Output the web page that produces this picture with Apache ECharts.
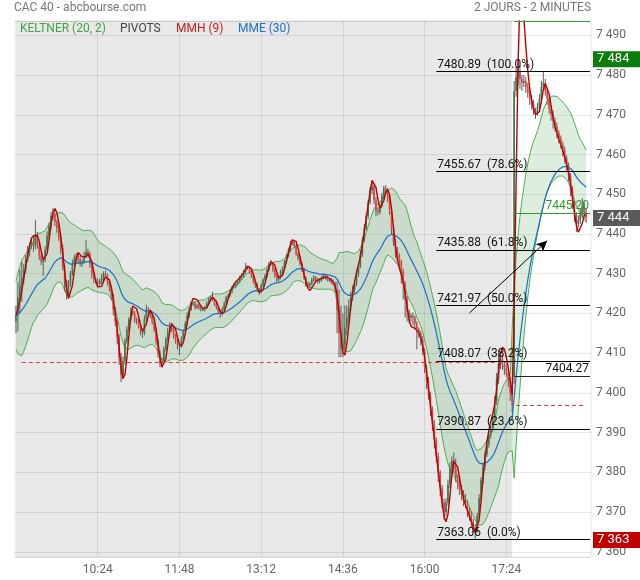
<!DOCTYPE html>
<html><head><meta charset="utf-8">
<script src="https://cdn.jsdelivr.net/npm/echarts@6/dist/echarts.min.js"></script>
<style>html,body{margin:0;padding:0;background:#fff}#c{width:640px;height:580px}</style>
</head><body><div id="c"></div>
<script>
// ---------- data ----------
const prevDayClose = 7407.7;   // red dashed reference line, day 1
const day1Open = 7418.0;
const day2Open = 7404.27;
const keltnerSeedAtr = 3.2;

const day1Close = [
7419.5,7424.0,7427.0,7429.0,7431.0,7433.5,7435.5,7437.0,7438.0,7437.0,
7439.5,7437.5,7434.5,7433.0,7433.5,7436.0,7439.5,7442.0,7444.5,7445.0,
7443.0,7441.5,7439.0,7436.5,7432.0,7428.0,7425.0,7427.5,7430.0,7432.5,
7434.0,7434.5,7433.5,7432.5,7433.0,7434.5,7435.5,7435.0,7432.5,7430.0,
7428.5,7428.0,7427.5,7428.0,7429.0,7430.0,7429.5,7428.0,7426.5,7424.5,
7421.0,7418.0,7414.0,7409.0,7404.5,7408.0,7413.0,7416.0,7418.5,7420.5,
7420.0,7418.5,7418.0,7417.0,7415.5,7415.0,7418.5,7421.0,7420.5,7419.5,
7418.0,7416.0,7413.0,7410.0,7407.5,7408.0,7411.0,7413.5,7415.5,7417.0,
7416.0,7414.5,7413.0,7412.0,7412.0,7413.5,7415.5,7417.5,7419.5,7421.0,
7422.5,7422.5,7421.5,7422.0,7421.5,7421.0,7421.0,7421.5,7422.5,7423.5,
7424.0,7423.5,7422.5,7421.5,7420.5,7420.0,7421.0,7422.5,7424.0,7424.5,
7425.5,7426.5,7427.0,7427.5,7428.0,7429.0,7429.5,7430.5,7431.5,7431.5,
7430.5,7429.5,7428.0,7427.0,7426.0,7425.5,7427.0,7428.5,7429.5,7431.0,
7432.5,7432.5,7431.0,7429.5,7428.5,7429.0,7430.5,7431.5,7433.0,7434.5,
7436.0,7437.5,7438.0,7437.0,7435.0,7434.0,7432.5,7431.0,7429.0,7427.5,
7427.0,7427.5,7428.5,7429.0,7428.5,7428.0,7428.5,7429.0,7429.5,7429.0,
7428.5,7428.5,7428.0,7427.5,7426.0,7421.0,7415.0,7411.0,7412.0,7416.5,
7419.0,7421.5,7424.0,7426.0,7427.5,7430.0,7432.0,7435.0,7438.5,7441.5,
7444.5,7448.0,7451.0,7452.0,7448.5,7446.0,7445.5,7447.0,7449.5,7451.5,
7451.0,7449.0,7446.0,7441.5,7438.0,7436.0,7434.5,7433.0,7430.5,7427.5,
7423.5,7420.5,7419.0,7419.5,7419.0,7417.5,7416.0,7415.0,7413.5,7410.5,
7406.5,7403.0,7399.5,7396.0,7392.0,7388.0,7384.0,7380.0,7376.0,7372.5,
7370.0,7372.5,7377.0,7381.0,7383.0,7381.0,7378.5,7377.5,7375.5,7374.5,
7373.0,7372.0,7370.5,7369.0,7367.5,7366.0,7365.5,7369.0,7373.5,7378.0,
7381.5,7384.5,7387.0,7389.5,7391.0,7394.0,7398.0,7403.5,7407.5,7408.5,
7407.0,7406.0,7405.0,7403.0,7400.0,7397.0];
const day1WickUp = [
2.5,4.0,4.0,4.0,1.5,1.2,1.5,0.8,1.0,1.2, 4.0,1.0,0.6,0.8,0.5,0.9,1.2,0.8,1.0,1.5,
0.8,0.6,0.9,0.5,0.8,0.6,0.5,0.9,0.7,1.0, 0.8,0.7,0.6,0.9,0.6,1.0,3.0,0.8,0.6,0.5,
0.6,0.5,0.8,0.7,0.9,0.6,0.8,0.5,0.7,0.6, 0.5,0.6,0.5,0.8,1.0,1.2,0.8,0.9,0.6,1.0,
0.8,0.6,0.5,0.7,0.6,0.5,1.0,1.2,0.6,0.5, 0.5,0.6,0.4,0.5,0.6,0.8,0.7,0.6,0.9,0.8,
0.6,0.5,0.4,0.5,0.6,0.7,0.5,0.6,0.8,0.6, 0.5,0.6,0.4,0.5,0.4,0.5,0.6,0.4,0.5,0.6,
0.5,1.5,0.4,0.5,0.4,0.5,0.6,0.5,0.4,0.6, 0.5,0.4,0.6,0.5,0.4,0.5,0.6,0.5,1.2,0.5,
0.4,0.5,0.4,0.5,0.6,0.4,0.5,0.4,0.5,0.6, 0.5,1.0,0.4,0.5,0.4,0.6,0.5,0.4,0.5,0.6,
0.6,0.8,0.6,0.4,0.5,0.4,0.5,0.4,0.5,0.4, 0.5,0.4,0.5,0.6,0.4,0.5,0.4,0.5,0.6,0.4,
0.5,0.4,0.5,0.6,0.5,2.0,5.0,7.0,8.0,5.5, 3.0,2.0,1.5,1.0,0.8,1.0,0.8,1.0,0.8,1.0,
0.8,0.6,0.8,1.0,0.6,0.8,0.7,0.6,0.8,0.6, 0.8,0.6,0.8,1.0,0.6,0.8,0.7,0.6,0.5,0.8,
0.6,0.8,0.5,0.6,0.8,0.5,0.6,0.5,0.6,0.8, 0.8,0.6,1.0,0.8,0.6,1.2,0.8,1.0,0.6,0.8,
0.8,1.0,1.2,1.5,1.0,2.0,2.5,1.0,1.5,1.2, 1.0,1.5,1.0,0.8,1.2,0.8,1.0,0.8,1.0,0.8,
1.0,0.8,1.2,1.0,0.8,1.0,1.2,1.5,3.3,1.0, 1.0,0.8,1.2,1.0,0.8,1.0];
const day1WickDown = [
3.0,4.0,4.0,4.0,1.5,0.9,0.6,1.2,0.8,1.5, 0.8,1.2,1.0,0.8,3.5,0.6,0.5,0.8,0.7,1.0,
1.0,1.2,0.8,1.5,1.2,2.5,1.5,0.6,0.8,0.5, 0.6,0.8,1.0,0.7,0.8,0.5,0.6,0.9,1.0,1.2,
0.8,0.6,0.7,0.5,0.6,0.8,0.6,0.9,1.0,1.2, 1.5,1.2,1.8,2.0,1.8,1.0,0.8,0.6,0.7,0.5,
0.6,0.9,0.7,0.8,1.0,1.2,0.5,0.6,0.8,0.7, 0.8,0.7,1.0,1.2,1.0,1.0,0.6,0.5,0.6,0.5,
0.7,0.8,0.6,1.0,2.5,0.6,0.5,0.6,0.5,0.7, 0.4,0.6,0.5,0.4,0.6,0.5,0.4,0.5,0.4,0.5,
0.5,0.4,0.6,0.5,0.7,1.1,0.5,0.4,0.5,0.4, 0.4,0.5,0.4,0.6,0.5,0.4,0.5,0.4,0.5,0.6,
0.5,0.6,0.5,0.6,0.5,0.8,0.4,0.5,0.4,0.5, 0.4,0.5,0.6,0.5,0.7,0.5,0.4,0.6,0.4,0.5,
0.4,0.5,0.4,0.6,0.5,0.7,0.5,0.6,0.5,0.8, 0.6,0.5,0.4,0.5,0.6,0.5,0.4,0.5,0.4,0.5,
0.4,0.5,0.6,0.5,0.8,6.0,6.0,2.0,2.0,2.0, 2.0,1.5,1.0,0.8,1.0,0.6,0.8,0.6,0.8,0.6,
0.6,0.8,0.6,1.0,1.0,1.5,0.8,0.6,0.5,0.8, 0.8,1.0,1.2,1.5,1.0,2.0,1.5,1.2,3.0,4.0,
4.5,2.5,1.5,1.0,2.0,1.5,5.0,1.2,1.5,1.0, 1.5,2.0,1.2,1.8,1.5,2.0,1.5,2.5,2.0,1.5,
2.0,1.0,0.8,1.0,1.5,1.2,1.0,1.8,1.2,1.5, 1.5,1.0,1.8,1.2,1.5,1.2,2.44,0.8,0.6,0.8,
0.8,1.0,0.6,0.8,1.0,0.8,0.6,1.0,1.2,1.5, 1.2,1.5,1.0,1.5,2.0,1.8];

const day2Close = [
7476.0,7479.5,7481.0,7479.0,7478.0,7478.5,7477.0,7475.5,7474.0,7472.5,
7471.0,7470.5,7472.0,7474.0,7477.0,7478.0,7476.0,7474.0,7471.5,7470.0,
7468.5,7467.0,7465.5,7464.0,7462.5,7461.0,7459.0,7457.0,7454.5,7451.0,
7447.5,7444.5,7442.5,7443.5,7445.0,7447.0,7445.5,7444.0];
const day2WickUp = [
2.5,2.5,3.0,1.5,1.0,1.5,1.0,1.0,0.8,1.0, 1.2,0.8,1.0,1.2,1.5,3.0,1.0,0.8,1.0,0.8,
1.0,0.8,1.0,0.6,0.8,0.8,1.0,0.8,1.0,0.8, 1.0,0.8,1.0,1.2,1.5,2.0,1.2,1.0];
const day2WickDown = [
2.0,1.5,2.0,2.5,2.0,1.0,1.5,1.2,1.5,1.2, 1.0,1.5,0.8,0.8,1.0,1.0,1.2,1.5,1.2,1.5,
2.0,1.2,1.5,1.2,1.0,1.5,1.2,1.5,1.2,1.5, 1.2,1.5,2.0,0.8,1.0,1.0,1.0,1.2];

const xTickLabels = ['10:24','11:48','13:12','14:36','16:00','17:24'];
const fibLevels   = [7480.89, 7455.67, 7435.88, 7421.97, 7408.07, 7390.87, 7363.06];
const fibPercents = ['100.0%','78.6%','61.8%','50.0%','38.2%','23.6%','0.0%'];
const fibStartTime = '1|16:12';
const refLevel = 7445.20;
const priceTags = [7484, 7444, 7363];
const priceTagColors = ['#0a7d0a', '#5a5a5a', '#c20000'];
const arrowFrom = ['1|16:46', 7420.1];
const arrowTo   = ['2|09:34', 7438.3];
const yMin = 7358.7, yMax = 7493.6;

// ---------- categories (2-minute slots) ----------
function slots(day, n){ const out=[]; for(let i=0;i<n;i++){ const m=9*60+2*i; const h=Math.floor(m/60), mm=m%60; out.push(day+'|'+String(h).padStart(2,'0')+':'+String(mm).padStart(2,'0')); } return out; }
const categories = slots(1,256).concat(slots(2,40));
const catIdx = c => categories.indexOf(c);
const lastCat = categories.length-1;
const tickIdx = xTickLabels.map(t => catIdx('1|'+t));

// ---------- candles ----------
const closes = day1Close.concat(day2Close);
const wUp = day1WickUp.concat(day2WickUp);
const wDn = day1WickDown.concat(day2WickDown);
const candles = closes.map((c,i)=>{
  const o = i===0 ? day1Open : (i===day1Close.length ? day2Open : closes[i-1]);
  return [i, o, c, Math.min(o,c)-wDn[i], Math.max(o,c)+wUp[i]];
});

// ---------- indicators ----------
function ema(src,n){ const a=2/(n+1); let p; return src.map((v,i)=> (p = i===0 ? v : p + a*(v-p))); }
function wma(src,n){ return src.map((v,i)=>{ let s=0,w=0; for(let k=0;k<n&&i-k>=0;k++){ const wt=n-k; s+=src[i-k]*wt; w+=wt; } return s/w; }); }
const ema30 = ema(closes,30);
const kMid = ema(closes,20);
const tr = candles.map((d,i)=>{ const pc = i===0 ? prevDayClose : closes[i-1]; return Math.max(d[4],pc)-Math.min(d[3],pc); });
let atr = keltnerSeedAtr; const aK = 2/21;
const atrArr = tr.map(t => (atr = atr + aK*(t-atr)));
const kUp = kMid.map((m,i)=> m + 2*atrArr[i]);
const kLo = kMid.map((m,i)=> m - 2*atrArr[i]);
const kWidth = kUp.map((u,i)=> u - kLo[i]);
const w4 = wma(closes,4), w9 = wma(closes,9);
const hma = wma(w4.map((v,i)=> 2*v - w9[i]), 3);

const fmtPrice = v => { const s = String(Math.round(v)); return s.slice(0,1)+' '+s.slice(1); };
const FONT = 'Roboto';
const GRIDC = 'rgba(0,0,0,0.09)';

// ---------- marker lines ----------
const fibStart = catIdx(fibStartTime);
const annot = [];
fibLevels.forEach((v,i)=>{
  annot.push([{coord:[fibStart, v], lineStyle:{color:'#000', width:1, type:'solid'},
     label:{show:true, position:'insideStartTop', formatter: v.toFixed(2)+'  ('+fibPercents[i]+')', color:'#111', fontSize:12, fontFamily:FONT, distance:1}},
    {coord:[lastCat, v]}]);
});
annot.push([{coord:[3, prevDayClose], lineStyle:{color:'#e53935', width:1, type:[4,3]}, label:{show:false}}, {coord:[day1Close.length-1, prevDayClose]}]);
annot.push([{coord:[day1Close.length+1, day1Close[day1Close.length-1]], lineStyle:{color:'#e53935', width:1, type:[4,3]}, label:{show:false}}, {coord:[day1Close.length+day2Close.length-1, day1Close[day1Close.length-1]]}]);
annot.push([{coord:[day1Close.length, day2Open], lineStyle:{color:'#222', width:1, type:'solid'},
  label:{show:true, position:'insideEndTop', formatter: day2Open.toFixed(2), color:'#111', fontSize:12, fontFamily:FONT, distance:1}}, {coord:[lastCat, day2Open]}]);
annot.push([{coord:[day1Close.length, refLevel], lineStyle:{color:'#2e9a2e', width:1, type:'solid'},
  label:{show:true, position:'insideEndTop', formatter: refLevel.toFixed(2), color:'#2e9a2e', fontSize:12, fontFamily:FONT, distance:1}}, {coord:[lastCat, refLevel]}]);
annot.push([{coord:[day1Close.length, yMax], lineStyle:{color:'#43a047', width:1, type:'solid'}, label:{show:false}}, {coord:[lastCat, yMax]}]);
annot.push([{coord:[catIdx(arrowFrom[0]), arrowFrom[1]], symbol:'none', lineStyle:{color:'#000', width:1, type:'solid'}, label:{show:false}},
            {coord:[catIdx(arrowTo[0]), arrowTo[1]], symbol:'arrow', symbolSize:[8,11]}]);

const tags = priceTags.map((v,i)=>({yAxis:v, lineStyle:{color:'rgba(0,0,0,0)', width:0}, label:{show:true, position:'end', distance:2,
  formatter: fmtPrice(v), color:'#fff', backgroundColor: priceTagColors[i], padding:[2,4,1,4], width:39, align:'left',
  fontSize:13, fontFamily:FONT}}));

const chart = echarts.init(document.getElementById('c'), null, {renderer:'canvas'});
chart.setOption({
  animation:false,
  backgroundColor:'#fff',
  grid:{left:15, right:49, top:21, bottom:23, show:true, borderColor:'rgba(0,0,0,0.1)', borderWidth:1, outerBoundsMode:'none'},
  xAxis:{type:'category', data:categories, boundaryGap:true,
    axisLine:{show:false}, axisTick:{show:false}, splitLine:{show:false},
    axisLabel:{interval:(i)=> tickIdx.indexOf(i) >= 0, formatter: v => v.split('|')[1], color:'#666', fontSize:12, fontFamily:FONT, margin:7}},
  yAxis:{type:'value', position:'right', min:yMin, max:yMax, splitNumber:13, scale:true,
    axisLine:{show:false}, axisTick:{show:false},
    axisLabel:{color:'#666', fontSize:12, fontFamily:FONT, margin:5, showMinLabel:false, showMaxLabel:false,
      formatter: v => (Math.abs(v/10 - Math.round(v/10)) < 1e-6 ? fmtPrice(v) : '')},
    splitLine:{show:true, lineStyle:{color:GRIDC, width:1}}},
  graphic:[
    {type:'text', left:14, top:2, style:{text:'CAC 40 - abcbourse.com', fill:'#777', font:'12px '+FONT}},
    {type:'text', right:49, top:2, style:{text:'2 JOURS - 2 MINUTES', fill:'#777', font:'12px '+FONT}},
    {type:'text', left:20, top:23, z:100, style:{text:'KELTNER (20, 2)', fill:'#43a343', font:'12px '+FONT}},
    {type:'text', left:120, top:23, z:100, style:{text:'PIVOTS', fill:'#444', font:'12px '+FONT}},
    {type:'text', left:176, top:23, z:100, style:{text:'MMH (9)', fill:'#c62020', font:'12px '+FONT}},
    {type:'text', left:238, top:23, z:100, style:{text:'MME (30)', fill:'#1e6fc8', font:'12px '+FONT}}
  ],
  series:[
    {name:'kLower', type:'line', data:kLo, stack:'kelt', symbol:'none', silent:true, z:2,
     lineStyle:{color:'#4caf50', width:1},
     markArea:{silent:true, z:1, itemStyle:{color:GRIDC}, data:[[{xAxis:0}, {xAxis:day1Close.length-1}]]},
     markLine:{silent:true, z:1, symbol:['none','none'], label:{show:false}, lineStyle:{color:GRIDC, width:1, type:'solid'},
       data: tickIdx.map(i=>({xAxis:i}))}},
    {name:'kBand', type:'line', data:kWidth, stack:'kelt', symbol:'none', silent:true, z:2,
     lineStyle:{color:'#4caf50', width:1}, areaStyle:{color:'rgba(60,160,70,0.25)'}},
    {name:'candles', type:'custom', data:candles, clip:true, z:3, silent:true,
     encode:{x:0, y:[1,2,3,4]},
     renderItem:(params, api)=>{
       const x=api.value(0), o=api.value(1), c=api.value(2), l=api.value(3), h=api.value(4);
       const pO=api.coord([x,o]), pC=api.coord([x,c]), pL=api.coord([x,l]), pH=api.coord([x,h]);
       const bw = Math.max(1, api.size([1,0])[0]*0.85);
       const up = c >= o;
       const top = Math.min(pO[1],pC[1]), hgt = Math.max(1, Math.abs(pO[1]-pC[1]));
       return {type:'group', children:[
         {type:'line', shape:{x1:pH[0], y1:pH[1], x2:pL[0], y2:pL[1]}, style:{stroke:'#5c5c5c', lineWidth:1}},
         {type:'rect', shape:{x:pO[0]-bw/2, y:top, width:bw, height:hgt}, style:{fill: up ? '#2f8051' : '#e8413f'}}
       ]};
     }},
    {name:'MME', type:'line', data:ema30, symbol:'none', silent:true, z:4,
     lineStyle:{color:'#1a6fcc', width:1.2},
     markLine:{silent:true, symbol:['none','none'], z:5, data: annot}},
    {name:'MMH', type:'line', data:hma, symbol:'none', silent:true, z:4,
     lineStyle:{color:'#c00000', width:1.4},
     markLine:{silent:true, symbol:['none','none'], z:6, data: tags}}
  ]
});
</script></body></html>
